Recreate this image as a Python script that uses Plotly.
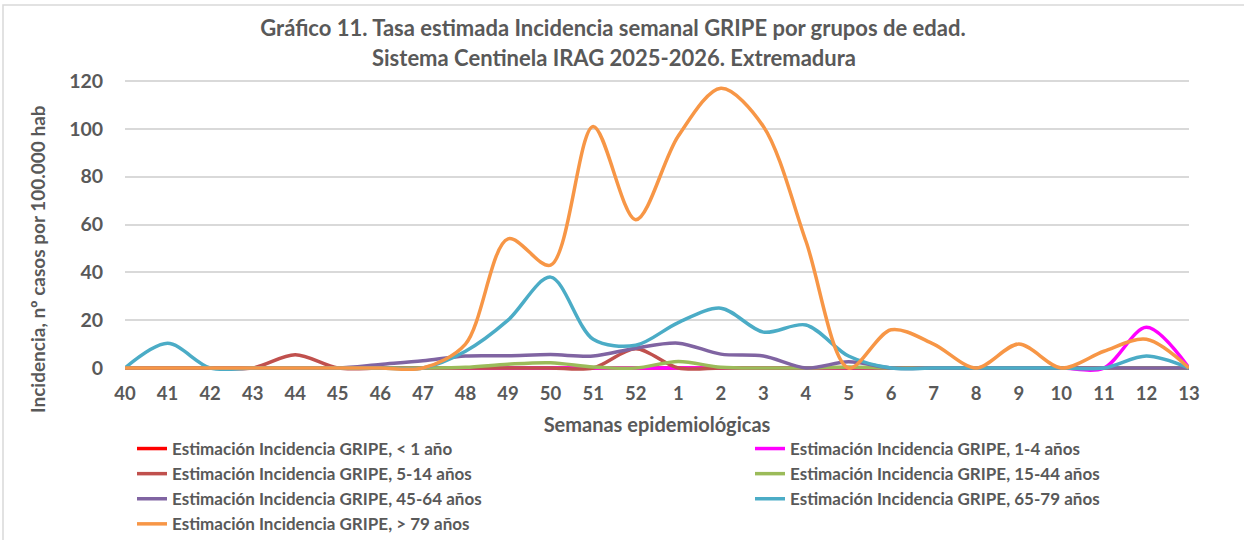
import plotly.graph_objects as go

weeks = ["40", "41", "42", "43", "44", "45", "46", "47", "48", "49", "50", "51", "52",
         "1", "2", "3", "4", "5", "6", "7", "8", "9", "10", "11", "12", "13"]

menor_1 = [0] * 26
de_1_4 = [0, 0, 0, 0, 0, 0, 0, 0, 0, 0, 0, 0, 0, 0, 0, 0, 0, 0, 0, 0, 0, 0, 0, 0, 17, 0]
de_5_14 = [0, 0, 0, 0, 5.5, 0, 0, 0, 0, 0, 0, 0, 8, 0, 0, 0, 0, 0, 0, 0, 0, 0, 0, 0, 0, 0]
de_15_44 = [0, 0, 0, 0, 0, 0, 0, 0, 0.3, 1.6, 2.2, 0.4, 0, 2.7, 0.3, 0, 0, 0.4, 0, 0, 0, 0, 0, 0, 0, 0]
de_45_64 = [0, 0, 0, 0, 0, 0, 1.5, 3, 5, 5.1, 5.6, 5, 8.3, 10.4, 5.8, 5, 0, 2.6, 0, 0, 0, 0, 0, 0, 0, 0]
de_65_79 = [0, 10.3, 0, 0, 0, 0, 0, 0, 7, 20, 38, 12, 9.5, 19, 25, 15, 18, 5, 0, 0, 0, 0, 0, 0, 5, 0]
mayor_79 = [0, 0, 0, 0, 0, 0, 0, 0, 10, 54, 43, 101, 62, 97, 117, 101, 53, 0, 16, 10, 0, 10, 0, 7, 12, 0]

series = [
    ("Estimación Incidencia GRIPE, < 1 año", menor_1, "#FF0000", "legend"),
    ("Estimación Incidencia GRIPE, 1-4 años", de_1_4, "#FF00FF", "legend2"),
    ("Estimación Incidencia GRIPE, 5-14 años", de_5_14, "#C0504D", "legend"),
    ("Estimación Incidencia GRIPE, 15-44 años", de_15_44, "#9BBB59", "legend2"),
    ("Estimación Incidencia GRIPE, 45-64 años", de_45_64, "#8064A2", "legend"),
    ("Estimación Incidencia GRIPE, 65-79 años", de_65_79, "#4BACC6", "legend2"),
    ("Estimación Incidencia GRIPE, > 79 años", mayor_79, "#F79646", "legend"),
]

FONT = "Lato"
GREY = "#595959"

fig = go.Figure()
for name, vals, color, leg in series:
    fig.add_trace(go.Scatter(
        x=weeks, y=vals, name=name, mode="lines",
        line=dict(color=color, width=3.5, shape="spline", smoothing=0.9),
        legend=leg,
    ))

W, H = 1244, 540
ml, mr, mt, mb = 125, 55, 79, 168
pw, ph = W - ml - mr, H - mt - mb

def px_x(p):
    return (p - ml) / pw

def px_y(p):
    return (H - mb - p) / ph

legend_font = dict(family=FONT, size=17, color=GREY, weight="bold")
title_font = dict(family=FONT, size=22, color=GREY, weight="bold")

fig.update_layout(
    width=W, height=H,
    margin=dict(l=ml, r=mr, t=mt, b=mb, autoexpand=False),
    paper_bgcolor="white", plot_bgcolor="white",
    font=dict(family=FONT, color=GREY),
    title=dict(
        text="Gráfico 11. Tasa estimada Incidencia semanal GRIPE por grupos de edad.",
        font=title_font,
        x=613 / W, xref="container", xanchor="center",
        y=1 - 28 / H, yref="container", yanchor="middle",
    ),
    annotations=[
        dict(
            text="Sistema Centinela IRAG 2025-2026. Extremadura",
            font=title_font,
            xref="paper", yref="paper", x=px_x(614), y=px_y(57),
            xanchor="center", yanchor="middle", showarrow=False,
        ),
        dict(
            text="Incidencia, nº casos por 100.000 hab",
            font=dict(family=FONT, size=19, color=GREY, weight="bold"), textangle=-90,
            xref="paper", yref="paper", x=px_x(37), y=px_y(259),
            xanchor="center", yanchor="middle", showarrow=False,
        ),
    ],
    xaxis=dict(
        type="category", range=[0, 25], dtick=1,
        showgrid=False, zeroline=False, showline=False,
        ticks="outside", ticklen=5, tickcolor="rgba(0,0,0,0)",
        tickfont=dict(family=FONT, size=18.5, color=GREY, weight="bold"),
        title=dict(text="Semanas epidemiológicas", standoff=14,
                   font=dict(family=FONT, size=20, color=GREY, weight="bold")),
    ),
    yaxis=dict(
        range=[-1.67, 120.84], tickvals=[0, 20, 40, 60, 80, 100, 120],
        showgrid=True, gridcolor="#D9D9D9", gridwidth=1.5, zeroline=False, showline=False,
        ticks="outside", ticklen=17, tickcolor="rgba(0,0,0,0)",
        tickfont=dict(family=FONT, size=19.5, color=GREY, weight="bold"),
    ),
    legend=dict(
        orientation="v", xref="container", x=132 / W, xanchor="left",
        yref="paper", y=px_y(431), yanchor="top",
        font=legend_font, bgcolor="rgba(0,0,0,0)", tracegroupgap=0,
    ),
    legend2=dict(
        orientation="v", xref="container", x=750 / W, xanchor="left",
        yref="paper", y=px_y(431), yanchor="top",
        font=legend_font, bgcolor="rgba(0,0,0,0)", tracegroupgap=0,
    ),
    shapes=[dict(
        type="rect", xref="paper", yref="paper",
        x0=px_x(3), x1=px_x(1250), y0=px_y(545), y1=px_y(5),
        line=dict(color="#D9D9D9", width=1.5), fillcolor="rgba(0,0,0,0)", layer="below",
    )],
    showlegend=True,
)

fig.write_html("out.html",
               config={"displayModeBar": False},
               post_script="document.body.style.margin='0';document.body.style.padding='0';")
